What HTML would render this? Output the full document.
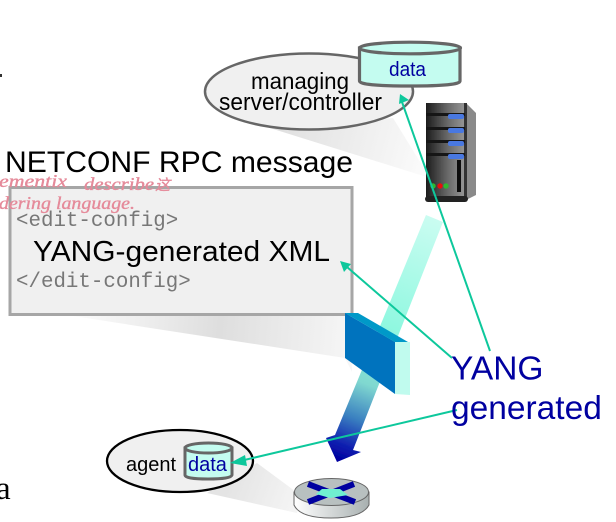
<!DOCTYPE html>
<html><head><meta charset="utf-8">
<style>html,body{margin:0;padding:0;background:#fff;width:616px;height:522px;overflow:hidden}svg{display:block}text{font-family:"Liberation Sans",sans-serif}</style>
</head><body>
<svg width="616" height="522" viewBox="0 0 616 522" xmlns="http://www.w3.org/2000/svg">
<defs>
<linearGradient id="beam" gradientUnits="userSpaceOnUse" x1="434" y1="218" x2="340" y2="460">
<stop offset="0" stop-color="#cafcf1"/><stop offset=".45" stop-color="#90f8e0"/><stop offset=".69" stop-color="#80d8d0"/><stop offset=".83" stop-color="#3a80c0"/><stop offset=".94" stop-color="#1020b0"/><stop offset="1" stop-color="#0000a0"/>
</linearGradient>
<linearGradient id="sh1" gradientUnits="userSpaceOnUse" x1="280" y1="130" x2="425" y2="170"><stop offset="0" stop-color="#e0e0e0"/><stop offset="1" stop-color="#fbfbfb"/></linearGradient>
<linearGradient id="sh2" gradientUnits="userSpaceOnUse" x1="60" y1="314" x2="350" y2="340"><stop offset="0" stop-color="#fff"/><stop offset=".55" stop-color="#dedede"/><stop offset="1" stop-color="#f6f6f6"/></linearGradient>
<linearGradient id="sh3" gradientUnits="userSpaceOnUse" x1="230" y1="480" x2="310" y2="510"><stop offset="0" stop-color="#e4e4e4"/><stop offset="1" stop-color="#f8f8f8"/></linearGradient>
<linearGradient id="srv" x1="0" x2="1" y1="0" y2="0"><stop offset="0" stop-color="#1c1c1c"/><stop offset=".55" stop-color="#6a6a6a"/><stop offset="1" stop-color="#999"/></linearGradient>
<linearGradient id="rt" x1="0" x2="1" y1="0" y2="0"><stop offset="0" stop-color="#fff"/><stop offset="1" stop-color="#a8b0b0"/></linearGradient>
<filter id="b" x="-5%" y="-5%" width="110%" height="110%"><feGaussianBlur stdDeviation=".3"/></filter>
</defs>
<g filter="url(#b)">
<!-- callout shadows -->
<polygon points="270,128 393,118 430,178" fill="url(#sh1)"/>
<polygon points="60,314 350,314 352,372 345,358" fill="url(#sh2)"/>
<polygon points="257,463 303,497 297,513 207,493" fill="url(#sh3)"/>

<!-- managing ellipse -->
<ellipse cx="309" cy="91.500" rx="104" ry="38" fill="#f0f0f0" stroke="#666" stroke-width="2.500"/>
<path d="M359.500 48V81Q359.500 86 410 86T460 81V48Z" fill="#c4fcf0" stroke="#666" stroke-width="3.200"/>
<ellipse cx="410" cy="48" rx="50.500" ry="5.800" fill="#c4fcf0" stroke="#666" stroke-width="3.200"/>
<text x="389" y="76" font-size="20.500" fill="#0000a0" textLength="37" lengthAdjust="spacingAndGlyphs">data</text>
<text x="251" y="89" font-size="23.500" fill="#000" textLength="98" lengthAdjust="spacingAndGlyphs">managing</text>
<text x="219" y="110" font-size="24" fill="#000" textLength="163" lengthAdjust="spacingAndGlyphs">server/controller</text>

<!-- server -->
<polygon points="466,103 476,113 476,195 466,200" fill="#8a8a8a"/>
<rect x="426" y="103" width="40" height="96" fill="url(#srv)"/>
<rect x="464" y="103" width="3" height="96" fill="#333"/>
<g fill="#151515"><rect x="426" y="113" width="39" height="3"/><rect x="426" y="127" width="39" height="3"/><rect x="426" y="140" width="39" height="3"/><rect x="426" y="153" width="39" height="3"/></g>
<g fill="#4a78e0"><rect x="448" y="114" width="16" height="5" rx="2"/><rect x="448" y="128" width="16" height="5" rx="2"/><rect x="448" y="141" width="16" height="5" rx="2"/><rect x="448" y="154" width="16" height="5" rx="2"/></g>
<rect x="457" y="160" width="4" height="32" fill="#111"/>
<circle cx="433" cy="186" r="2.700" fill="#2eb82e"/><circle cx="440" cy="186" r="2.700" fill="#e81010"/><circle cx="446" cy="186" r="2.700" fill="#2eb82e"/>
<rect x="425" y="196" width="43" height="6" rx="3" fill="#222"/>

<!-- title + message box -->
<text x="5" y="172" font-size="29.500" fill="#000" textLength="348" lengthAdjust="spacingAndGlyphs">NETCONF RPC message</text>
<rect x="10" y="187.500" width="342" height="127" fill="#f0f0f0" stroke="#a6a6a6" stroke-width="3"/>
<text x="16" y="226" font-size="20.800" fill="#777" style="font-family:'Liberation Mono',monospace">&lt;edit-config&gt;</text>
<text x="33" y="261" font-size="29" fill="#000" textLength="297" lengthAdjust="spacingAndGlyphs">YANG-generated XML</text>
<text x="16" y="287" font-size="20.800" fill="#777" style="font-family:'Liberation Mono',monospace">&lt;/edit-config&gt;</text>
<g font-style="italic" fill="#e58a9a" stroke="#e58a9a" stroke-width=".35">
<text x="-1" y="187" font-size="18" textLength="68" lengthAdjust="spacingAndGlyphs" style="font-family:'Liberation Serif',serif">ementix</text>
<text x="84" y="190" font-size="18" textLength="70" lengthAdjust="spacingAndGlyphs" style="font-family:'Liberation Serif',serif">describe</text>
<text x="155" y="190" font-size="15" style="font-family:'Noto Sans CJK SC',sans-serif">这</text>
<text x="-1" y="209" font-size="18" textLength="136" lengthAdjust="spacingAndGlyphs" style="font-family:'Liberation Serif',serif">dering language.</text>
</g>

<!-- beam -->
<polygon points="426,215 443,222 353,450 361,452 337,462 326,438 335,435" fill="url(#beam)"/>
<!-- firewall -->
<polygon points="345,313 395,342 395,394 345,358" fill="#0073be"/>
<polygon points="345,313 358,313 408,342 395,342" fill="#0099c8"/>
<polygon points="395,342 410,342 410,395 395,394" fill="#c0fbee"/>

<!-- agent -->
<ellipse cx="180" cy="461" rx="73" ry="31" fill="#f0f0f0" stroke="#000" stroke-width="2.300"/>
<text x="126" y="471" font-size="20" fill="#000">agent</text>
<path d="M185 448V475Q185 479 208 479T232 475V448Z" fill="#c4fcf0" stroke="#666" stroke-width="3"/>
<ellipse cx="208.500" cy="448" rx="23.500" ry="5" fill="#c4fcf0" stroke="#666" stroke-width="3"/>
<text x="188" y="471" font-size="20" fill="#0000a0">data</text>

<!-- router -->
<path d="M294 492V505Q300 518 331 518T369 505V492Z" fill="url(#rt)" stroke="#666" stroke-width="1"/>
<ellipse cx="331.500" cy="492" rx="37" ry="13.500" fill="#b8c0c0" stroke="#666" stroke-width="1"/>
<g stroke-width="6" fill="none">
<path d="M308 484L355 502" stroke="#0000a0"/><path d="M354 484L308 502" stroke="#0000a0"/>
</g>
<polygon points="322,489 340,489 348,495 330,498 316,494" fill="#70f0d0"/>

<!-- green connectors -->
<g stroke="#10c89c" stroke-width="2" fill="#10c89c">
<line x1="490" y1="351" x2="402" y2="102"/>
<line x1="452" y1="358" x2="347" y2="267"/>
<line x1="457" y1="410" x2="240" y2="461"/>
</g>
<g fill="#10c89c">
<polygon points="400,94 409,100 399,104"/>
<polygon points="340,261 351,264 344,272"/>
<polygon points="230,463 245,455 247,466"/>
</g>

<!-- YANG label -->
<text x="451" y="379.500" font-size="33.500" fill="#0000a0">YANG</text>
<text x="451" y="419" font-size="33.500" fill="#0000a0">generated</text>

<!-- stray page text -->
<text x="-4" y="499" font-size="33" fill="#000" style="font-family:'Liberation Serif',serif">a</text>
<rect x="0" y="74" width="2" height="3" fill="#333"/>
</g>
</svg>
</body></html>
